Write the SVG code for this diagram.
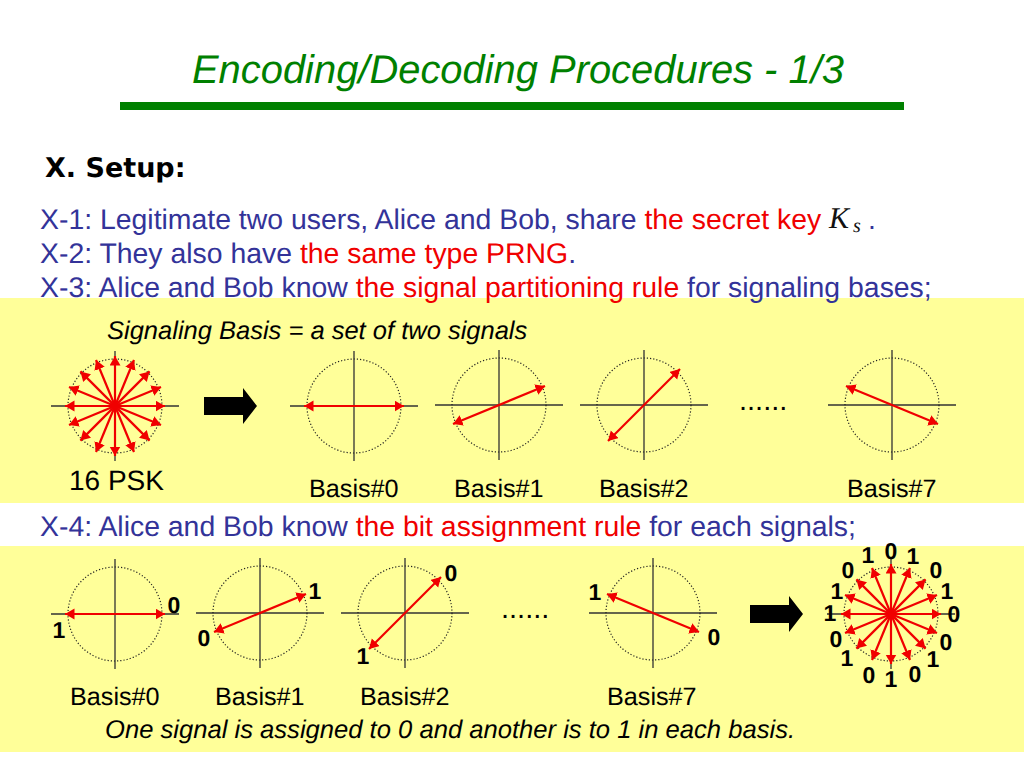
<svg xmlns="http://www.w3.org/2000/svg" xmlns:xlink="http://www.w3.org/1999/xlink" width="1024" height="768" viewBox="0 0 1024 768">
<style>
text{font-family:"Liberation Sans",Arial,sans-serif;text-rendering:geometricPrecision}
.b{font-size:28.4px;fill:#333399}
.r{fill:#f00000}
.k{fill:#000}
.n{font-size:23px;font-weight:bold;fill:#000;text-anchor:middle}
.ax{stroke:#333;stroke-width:1.3;fill:none}
.c{stroke:#222;stroke-width:1.2;stroke-dasharray:1.2 2;fill:none}
.a{stroke:#f00000;stroke-width:2.2;fill:none;marker-start:url(#h);marker-end:url(#h)}
</style>
<defs>
<marker id="h" markerUnits="userSpaceOnUse" markerWidth="10" markerHeight="12" refX="9.5" refY="5.5" orient="auto-start-reverse"><path d="M0 0L9.5 5.5L0 11z" fill="#f00000"/></marker>
<g id="frame"><path class="ax" d="M-64 0H64M0-55V55"/><circle class="c" r="47"/></g>
<path id="block" d="M0-9H39V-18L53 0L39 18V9H0z" fill="#000"/>
<g id="psk"><use xlink:href="#frame"/>
<path class="a" d="M-50 0H50"/><path class="a" d="M0-50V50"/>
<path class="a" d="M-46 19L46-19"/><path class="a" d="M-46-19L46 19"/>
<path class="a" d="M-34.6 34.6L34.6-34.6"/><path class="a" d="M-34.6-34.6L34.6 34.6"/>
<path class="a" d="M-19 46L19-46"/><path class="a" d="M-19-46L19 46"/>
</g>
<g id="b0"><use xlink:href="#frame"/><path class="a" d="M-50 0H50"/></g>
<g id="b1"><use xlink:href="#frame"/><path class="a" d="M-46 19L46-19"/></g>
<g id="b2"><use xlink:href="#frame"/><path class="a" d="M-36 36L36-36"/></g>
<g id="b7"><use xlink:href="#frame"/><path class="a" d="M-46-19L46 19"/></g>
</defs>
<rect width="1024" height="768" fill="#fff"/>
<rect id="band1" y="298" width="1024" height="205" fill="#ffff99"/>
<rect id="band2" y="546" width="1024" height="206" fill="#ffff99"/>
<g id="title">
<text x="192" y="83" font-size="39.9" font-style="italic" fill="#008000">Encoding/Decoding Procedures  - 1/3</text>
<rect x="120" y="102" width="784" height="8" fill="#008000"/>
</g>
<g id="setup">
<text x="45" y="177" font-size="27" font-weight="bold" style="font-family:'DejaVu Sans',sans-serif">X. Setup:</text>
<text class="b" x="40" y="229">X-1: Legitimate two users, Alice and Bob, share <tspan class="r">the secret key</tspan></text>
<text x="829" y="228" font-size="30" font-style="italic" fill="#111" style="font-family:'Liberation Serif',serif">K</text>
<text x="853" y="232" font-size="20" font-style="italic" fill="#111" style="font-family:'Liberation Serif',serif">s</text>
<text class="b" x="868" y="229">.</text>
<text class="b" x="40" y="263">X-2: They also have <tspan class="r">the same type PRNG</tspan>.</text>
<text class="b" x="40" y="297">X-3: Alice and Bob know <tspan class="r">the signal partitioning rule</tspan> for signaling bases;</text>
<text class="b" x="40" y="536">X-4: Alice and Bob know <tspan class="r">the bit assignment rule</tspan> for each signals;</text>
</g>
<g id="row1">
<text class="k" x="107" y="339" font-style="italic" font-size="25.5">Signaling Basis = a set of two signals</text>
<use id="psk1" xlink:href="#psk" x="115" y="406"/>
<use id="arrow1" xlink:href="#block" x="204" y="406"/>
<use id="r1b0" xlink:href="#b0" x="354" y="406"/>
<use id="r1b1" xlink:href="#b1" x="499" y="405"/>
<use id="r1b2" xlink:href="#b2" x="644" y="405"/>
<use id="r1b7" xlink:href="#b7" x="892" y="405"/>
<text class="k" x="69" y="490" font-size="28">16 PSK</text>
<text class="k" x="309" y="497" font-size="25.2">Basis#0</text>
<text class="k" x="454" y="497" font-size="25.2">Basis#1</text>
<text class="k" x="599" y="497" font-size="25.2">Basis#2</text>
<text class="k" x="847" y="497" font-size="25.2">Basis#7</text>
<text class="k" x="739" y="410" font-size="29">......</text>
</g>
<g id="row2">
<use id="r2b0" xlink:href="#b0" x="115" y="614"/>
<use id="r2b1" xlink:href="#b1" x="260" y="613"/>
<use id="r2b2" xlink:href="#b2" x="405" y="613"/>
<use id="r2b7" xlink:href="#b7" x="653" y="613"/>
<use id="arrow2" xlink:href="#block" x="750" y="614"/>
<use id="psk2" xlink:href="#psk" x="891" y="614"/>
<text class="k" x="501" y="618" font-size="29">......</text>
<text class="k" x="70" y="705" font-size="25.2">Basis#0</text>
<text class="k" x="215" y="705" font-size="25.2">Basis#1</text>
<text class="k" x="360" y="705" font-size="25.2">Basis#2</text>
<text class="k" x="607" y="705" font-size="25.2">Basis#7</text>
<text class="k" x="105" y="738" font-size="25.6" font-style="italic">One signal is assigned to 0 and another is to 1 in each basis.</text>
<text class="n" x="174" y="613">0</text><text class="n" x="59" y="638">1</text>
<text class="n" x="315" y="599">1</text><text class="n" x="204" y="646">0</text>
<text class="n" x="451" y="581">0</text><text class="n" x="363" y="664">1</text>
<text class="n" x="595" y="600">1</text><text class="n" x="714" y="645">0</text>
</g>
<g id="labels">
<text class="n" x="891" y="559">0</text><text class="n" x="868" y="563">1</text><text class="n" x="913" y="564">1</text>
<text class="n" x="848" y="578">0</text><text class="n" x="936" y="578">0</text>
<text class="n" x="837" y="599">1</text><text class="n" x="947" y="599">1</text>
<text class="n" x="830" y="621">1</text><text class="n" x="954" y="622">0</text>
<text class="n" x="836" y="647">0</text><text class="n" x="946" y="650">0</text>
<text class="n" x="847" y="666">1</text><text class="n" x="933" y="667">1</text>
<text class="n" x="869" y="683">0</text><text class="n" x="915" y="682">0</text><text class="n" x="891" y="687">1</text>
</g>
</svg>
